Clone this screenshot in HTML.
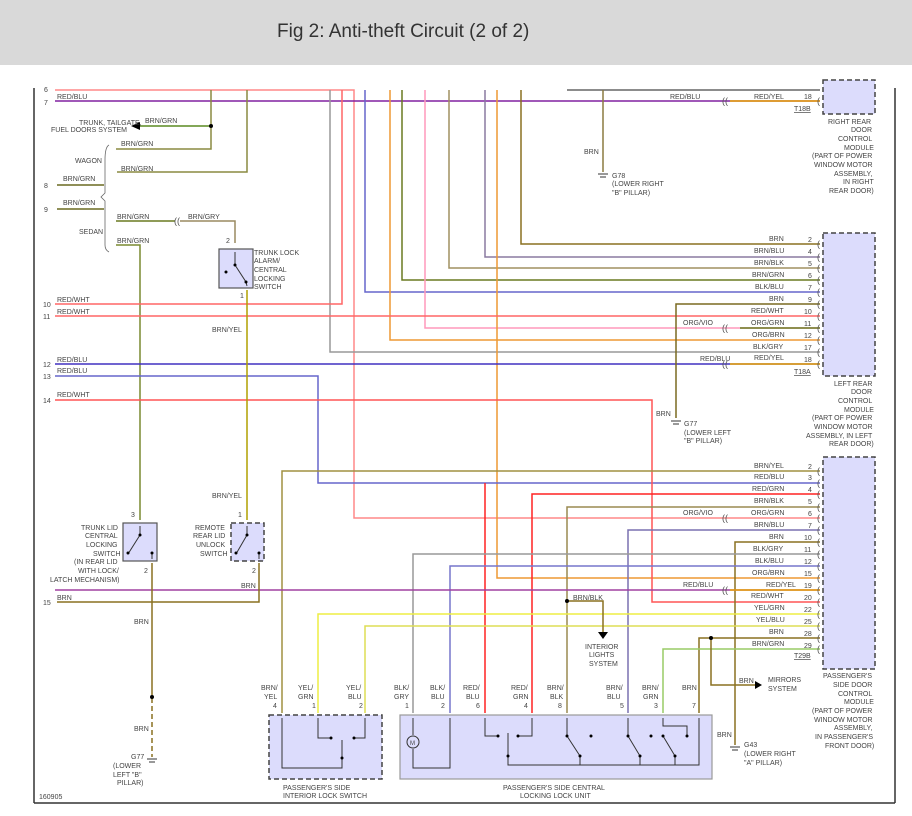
<!DOCTYPE html>
<html><head><meta charset="utf-8"><style>
html,body{margin:0;padding:0;background:#fff;}
svg{display:block;}
text{font-family:"Liberation Sans",sans-serif;font-size:7px;fill:#444;}
.t{font-size:19px;fill:#333;}
.c{font-size:9px;fill:#555;}
</style></head><body>
<svg width="912" height="816" viewBox="0 0 912 816" xmlns="http://www.w3.org/2000/svg">
<rect x="0" y="0" width="912" height="65" fill="#d9d9d9"/>
<text class="t" x="277" y="37">Fig 2: Anti-theft Circuit (2 of 2)</text>
<line x1="34" y1="88" x2="34" y2="803" stroke="#333" stroke-width="1.5"/>
<line x1="895" y1="88" x2="895" y2="803" stroke="#333" stroke-width="1.5"/>
<line x1="34" y1="803" x2="895" y2="803" stroke="#333" stroke-width="1.5"/>

<g fill="none" stroke-width="1.5">
<polyline points="55,90 354,90 354,518 820,518" stroke="#f88"/>
<line x1="567" y1="90" x2="820" y2="90" stroke="#666"/>
<line x1="55" y1="101" x2="820" y2="101" stroke="#8020a0"/>
<line x1="730" y1="101" x2="820" y2="101" stroke="#e8a000"/>
<line x1="140" y1="126" x2="211" y2="126" stroke="#5a8a20"/>
<polyline points="211,90 211,149 116,149" stroke="#8a8a40"/>
<polyline points="247,90 247,172 117,172" stroke="#8a8a40"/>
<line x1="57" y1="185" x2="104" y2="185" stroke="#6a6a20"/>
<line x1="57" y1="209" x2="104" y2="209" stroke="#6a6a20"/>
<line x1="116" y1="221" x2="175" y2="221" stroke="#6a7a20"/>
<polyline points="180,221 235,221 235,243" stroke="#9a8a60"/>
<polyline points="116,245 140,245 140,520" stroke="#7a8a30"/>
<polyline points="330,90 330,352 820,352" stroke="#999"/>
<polyline points="342,90 342,304 55,304" stroke="#f66"/>
<polyline points="365,90 365,292 820,292" stroke="#66c"/>
<polyline points="390,90 390,340 820,340" stroke="#e93"/>
<polyline points="402,90 402,280 820,280" stroke="#6a7a20"/>
<polyline points="425,90 425,328 820,328" stroke="#f9b"/>
<polyline points="449,90 449,268 820,268" stroke="#a09060"/>
<polyline points="485,90 485,257 820,257" stroke="#8a7aa0"/>
<polyline points="497,90 497,578 820,578" stroke="#e93"/>
<polyline points="521,90 521,244 820,244" stroke="#8a7020"/>
<polyline points="603,90 603,172" stroke="#8a7a40"/>
<line x1="55" y1="316" x2="820" y2="316" stroke="#f66"/>
<line x1="740" y1="328" x2="820" y2="328" stroke="#6a7a20"/>
<line x1="55" y1="364" x2="820" y2="364" stroke="#4030c0"/>
<line x1="730" y1="364" x2="820" y2="364" stroke="#e8a000"/>
<polyline points="676,418 676,304 820,304" stroke="#7a6a20"/>
<polyline points="55,376 318,376 318,483 820,483" stroke="#66c"/>
<polyline points="55,400 652,400 652,602 820,602" stroke="#f55"/>
<polyline points="282,713 282,471 820,471" stroke="#a09040"/>
<polyline points="485,713 485,483" stroke="#f22"/>
<polyline points="532,713 532,494 820,494" stroke="#f22"/>
<polyline points="567,713 567,507 820,507" stroke="#9a8a50"/>
<polyline points="628,713 628,530 820,530" stroke="#7a70b0"/>
<polyline points="735,745 735,542 820,542" stroke="#8a7020"/>
<polyline points="413,713 413,554 820,554" stroke="#999"/>
<polyline points="450,713 450,566 820,566" stroke="#77c"/>
<line x1="55" y1="590" x2="820" y2="590" stroke="#a040a0"/>
<line x1="730" y1="590" x2="820" y2="590" stroke="#e8a000"/>
<polyline points="318,713 318,614 820,614" stroke="#ee4"/>
<polyline points="365,713 365,626 820,626" stroke="#dd5"/>
<polyline points="699,713 699,638 820,638" stroke="#8a7020"/>
<polyline points="663,713 663,649 820,649" stroke="#9c6"/>
<polyline points="567,601 603,601 603,632" stroke="#8a7020"/>
<polyline points="711,638 711,685 755,685" stroke="#8a7020"/>
<polyline points="247,290 247,520" stroke="#b0a000"/>
<polyline points="152,563 152,695" stroke="#8a7020"/>
<line x1="152" y1="698" x2="152" y2="757" stroke="#8a7020" stroke-dasharray="5,3"/>
<polyline points="57,602 259,602 259,563" stroke="#8a7020"/>
</g>
<g fill="#000">
<circle cx="211" cy="126" r="2"/><circle cx="567" cy="601" r="2"/><circle cx="711" cy="638" r="2"/><circle cx="152" cy="697" r="2"/>
</g>
<polygon points="131,126 140,122 140,130" fill="#000"/>
<polygon points="598,632 608,632 603,639" fill="#000"/>
<polygon points="755,681 762,685 755,689" fill="#000"/>
<path d="M109,145 Q105,147 105,160 L105,193 L101,197 L105,201 L105,245 Q105,250 109,252" fill="none" stroke="#666" stroke-width="0.8"/>

<g fill="#dcdcfc" stroke="#444" stroke-width="1.5" stroke-dasharray="5,3">
<rect x="823" y="80" width="52" height="34"/>
<rect x="823" y="233" width="52" height="143"/>
<rect x="823" y="457" width="52" height="212"/>
<rect x="269" y="715" width="113" height="64"/>
<rect x="231" y="523" width="33" height="38"/>
</g>
<g fill="#dcdcfc" stroke="#555" stroke-width="1.2">
<rect x="219" y="249" width="34" height="39"/>
<rect x="123" y="523" width="34" height="38"/>
<rect x="400" y="715" width="312" height="64" stroke="#999"/>
</g>
<!-- connector marks -->
<g class="c">
<text class="c" x="817" y="104">(</text>
<text class="c" x="817" y="247">(</text><text class="c" x="817" y="260">(</text><text class="c" x="817" y="271">(</text><text class="c" x="817" y="283">(</text><text class="c" x="817" y="295">(</text><text class="c" x="817" y="307">(</text><text class="c" x="817" y="319">(</text><text class="c" x="817" y="331">(</text><text class="c" x="817" y="343">(</text><text class="c" x="817" y="355">(</text><text class="c" x="817" y="367">(</text>
<text class="c" x="817" y="474">(</text><text class="c" x="817" y="486">(</text><text class="c" x="817" y="497">(</text><text class="c" x="817" y="510">(</text><text class="c" x="817" y="521">(</text><text class="c" x="817" y="533">(</text><text class="c" x="817" y="545">(</text><text class="c" x="817" y="557">(</text><text class="c" x="817" y="569">(</text><text class="c" x="817" y="581">(</text><text class="c" x="817" y="593">(</text><text class="c" x="817" y="605">(</text><text class="c" x="817" y="617">(</text><text class="c" x="817" y="629">(</text><text class="c" x="817" y="641">(</text><text class="c" x="817" y="652">(</text>
<text class="c" x="722" y="104">((</text><text class="c" x="722" y="367">((</text><text class="c" x="722" y="331">((</text><text class="c" x="722" y="521">((</text><text class="c" x="722" y="593">((</text><text class="c" x="174" y="224">((</text>
</g>
<g stroke="#333" stroke-width="1" fill="none">
<polyline points="235,252 235,265 246,282 247,286"/>
<polyline points="140,526 140,535 128,554"/>
<polyline points="152,553 152,559"/>
<polyline points="247,526 247,535 236,554"/>
<polyline points="259,553 259,559"/>
<polyline points="282,718 282,768 342,768 342,740"/>
<polyline points="318,718 318,738 331,738"/>
<polyline points="365,718 365,738 354,738"/>
<polyline points="413,718 413,735"/><circle cx="413" cy="742" r="6"/>
<polyline points="413,749 413,768 450,768 450,718"/>
<polyline points="485,718 485,736 498,736"/>
<polyline points="532,718 532,736 518,736"/>
<polyline points="508,733 508,765 699,765 699,718"/>
<polyline points="567,718 567,736 580,756 580,765"/>
<polyline points="628,718 628,736 640,756 640,765"/>
<polyline points="663,718 663,726 687,726 687,736"/>
<polyline points="663,736 675,756 675,765"/>
</g>
<text x="410" y="745" style="font-size:6px">M</text>
<g fill="#000">
<circle cx="235" cy="265" r="1.5"/><circle cx="246" cy="282" r="1.5"/><circle cx="226" cy="272" r="1.5"/>
<circle cx="140" cy="535" r="1.5"/><circle cx="128" cy="553" r="1.5"/><circle cx="152" cy="553" r="1.5"/>
<circle cx="247" cy="535" r="1.5"/><circle cx="236" cy="553" r="1.5"/><circle cx="259" cy="553" r="1.5"/>
<circle cx="331" cy="738" r="1.5"/><circle cx="354" cy="738" r="1.5"/><circle cx="342" cy="758" r="1.5"/>
<circle cx="498" cy="736" r="1.5"/><circle cx="518" cy="736" r="1.5"/><circle cx="508" cy="756" r="1.5"/>
<circle cx="567" cy="736" r="1.5"/><circle cx="580" cy="756" r="1.5"/><circle cx="591" cy="736" r="1.5"/>
<circle cx="628" cy="736" r="1.5"/><circle cx="640" cy="756" r="1.5"/><circle cx="651" cy="736" r="1.5"/>
<circle cx="663" cy="736" r="1.5"/><circle cx="675" cy="756" r="1.5"/><circle cx="687" cy="736" r="1.5"/>
</g>
<g stroke="#333" stroke-width="1"><line x1="598" y1="174" x2="608" y2="174"/><line x1="600" y1="177" x2="606" y2="177"/>
<line x1="671" y1="421" x2="681" y2="421"/><line x1="673" y1="424" x2="679" y2="424"/>
<line x1="147" y1="759" x2="157" y2="759"/><line x1="149" y1="762" x2="155" y2="762"/>
<line x1="730" y1="747" x2="740" y2="747"/><line x1="732" y1="750" x2="738" y2="750"/></g>

<text x="44" y="92">6</text><text x="44" y="105">7</text><text x="57" y="99">RED/BLU</text>
<text x="79" y="125">TRUNK, TAILGATE,</text><text x="51" y="132">FUEL DOORS SYSTEM</text>
<text x="145" y="123">BRN/GRN</text><text x="121" y="146">BRN/GRN</text><text x="75" y="163">WAGON</text>
<text x="121" y="171">BRN/GRN</text><text x="63" y="181">BRN/GRN</text><text x="44" y="188">8</text>
<text x="63" y="205">BRN/GRN</text><text x="44" y="212">9</text>
<text x="117" y="219">BRN/GRN</text><text x="188" y="219">BRN/GRY</text>
<text x="79" y="234">SEDAN</text><text x="117" y="243">BRN/GRN</text>
<text x="226" y="243">2</text><text x="254" y="255">TRUNK LOCK</text><text x="254" y="263">ALARM/</text><text x="254" y="272">CENTRAL</text><text x="254" y="281">LOCKING</text><text x="254" y="289">SWITCH</text><text x="240" y="298">1</text>
<text x="43" y="307">10</text><text x="57" y="302">RED/WHT</text><text x="43" y="319">11</text><text x="57" y="314">RED/WHT</text>
<text x="212" y="332">BRN/YEL</text>
<text x="43" y="367">12</text><text x="57" y="362">RED/BLU</text><text x="43" y="379">13</text><text x="57" y="373">RED/BLU</text>
<text x="43" y="403">14</text><text x="57" y="397">RED/WHT</text>
<text x="670" y="99">RED/BLU</text><text x="754" y="99">RED/YEL</text><text x="804" y="99">18</text><text x="794" y="111" text-decoration="underline">T18B</text>
<text x="828" y="124">RIGHT REAR</text><text x="851" y="132">DOOR</text><text x="838" y="141">CONTROL</text><text x="844" y="150">MODULE</text><text x="812" y="158">(PART OF POWER</text><text x="814" y="167">WINDOW MOTOR</text><text x="834" y="176">ASSEMBLY,</text><text x="843" y="184">IN RIGHT</text><text x="829" y="193">REAR DOOR)</text>
<text x="584" y="154">BRN</text><text x="612" y="178">G78</text><text x="612" y="186">(LOWER RIGHT</text><text x="612" y="195">"B" PILLAR)</text>
<text x="769" y="241">BRN</text><text x="808" y="242">2</text>
<text x="754" y="253">BRN/BLU</text><text x="808" y="254">4</text>
<text x="754" y="265">BRN/BLK</text><text x="808" y="266">5</text>
<text x="752" y="277">BRN/GRN</text><text x="808" y="278">6</text>
<text x="755" y="289">BLK/BLU</text><text x="808" y="290">7</text>
<text x="769" y="301">BRN</text><text x="808" y="302">9</text>
<text x="751" y="313">RED/WHT</text><text x="804" y="314">10</text>
<text x="683" y="325">ORG/VIO</text><text x="751" y="325">ORG/GRN</text><text x="804" y="326">11</text>
<text x="752" y="337">ORG/BRN</text><text x="804" y="338">12</text>
<text x="753" y="349">BLK/GRY</text><text x="804" y="350">17</text>
<text x="700" y="361">RED/BLU</text><text x="754" y="360">RED/YEL</text><text x="804" y="362">18</text><text x="794" y="374" text-decoration="underline">T18A</text>
<text x="834" y="386">LEFT REAR</text><text x="851" y="394">DOOR</text><text x="838" y="403">CONTROL</text><text x="844" y="412">MODULE</text><text x="812" y="420">(PART OF POWER</text><text x="814" y="429">WINDOW MOTOR</text><text x="806" y="438">ASSEMBLY, IN LEFT</text><text x="829" y="446">REAR DOOR)</text>
<text x="656" y="416">BRN</text><text x="684" y="426">G77</text><text x="684" y="435">(LOWER LEFT</text><text x="684" y="443">"B" PILLAR)</text>
<text x="754" y="468">BRN/YEL</text><text x="808" y="469">2</text>
<text x="754" y="479">RED/BLU</text><text x="808" y="480">3</text>
<text x="752" y="491">RED/GRN</text><text x="808" y="492">4</text>
<text x="754" y="503">BRN/BLK</text><text x="808" y="504">5</text>
<text x="683" y="515">ORG/VIO</text><text x="751" y="515">ORG/GRN</text><text x="808" y="516">6</text>
<text x="754" y="527">BRN/BLU</text><text x="808" y="528">7</text>
<text x="769" y="539">BRN</text><text x="804" y="540">10</text>
<text x="753" y="551">BLK/GRY</text><text x="804" y="552">11</text>
<text x="755" y="563">BLK/BLU</text><text x="804" y="564">12</text>
<text x="752" y="575">ORG/BRN</text><text x="804" y="576">15</text>
<text x="683" y="587">RED/BLU</text><text x="766" y="587">RED/YEL</text><text x="804" y="588">19</text>
<text x="751" y="598">RED/WHT</text><text x="804" y="600">20</text>
<text x="754" y="610">YEL/GRN</text><text x="804" y="612">22</text>
<text x="756" y="622">YEL/BLU</text><text x="804" y="624">25</text>
<text x="769" y="634">BRN</text><text x="804" y="636">28</text>
<text x="752" y="646">BRN/GRN</text><text x="804" y="648">29</text><text x="794" y="658" text-decoration="underline">T29B</text>
<text x="823" y="678">PASSENGER'S</text><text x="833" y="687">SIDE DOOR</text><text x="838" y="696">CONTROL</text><text x="844" y="704">MODULE</text><text x="812" y="713">(PART OF POWER</text><text x="814" y="722">WINDOW MOTOR</text><text x="834" y="730">ASSEMBLY,</text><text x="815" y="739">IN PASSENGER'S</text><text x="825" y="748">FRONT DOOR)</text>
<text x="573" y="600">BRN/BLK</text><text x="585" y="649">INTERIOR</text><text x="589" y="657">LIGHTS</text><text x="589" y="666">SYSTEM</text>
<text x="739" y="683">BRN</text><text x="768" y="682">MIRRORS</text><text x="768" y="691">SYSTEM</text>
<text x="717" y="737">BRN</text><text x="744" y="747">G43</text><text x="744" y="756">(LOWER RIGHT</text><text x="744" y="765">"A" PILLAR)</text>
<text x="81" y="530">TRUNK LID</text><text x="85" y="538">CENTRAL</text><text x="86" y="547">LOCKING</text><text x="93" y="556">SWITCH</text><text x="74" y="564">(IN REAR LID</text><text x="78" y="573">WITH LOCK/</text><text x="50" y="582">LATCH MECHANISM)</text>
<text x="131" y="517">3</text><text x="144" y="573">2</text>
<text x="195" y="530">REMOTE</text><text x="193" y="538">REAR LID</text><text x="196" y="547">UNLOCK</text><text x="200" y="556">SWITCH</text>
<text x="238" y="517">1</text><text x="252" y="573">2</text><text x="241" y="588">BRN</text><text x="212" y="498">BRN/YEL</text>
<text x="43" y="605">15</text><text x="57" y="600">BRN</text><text x="134" y="624">BRN</text><text x="134" y="731">BRN</text>
<text x="131" y="759">G77</text><text x="113" y="768">(LOWER</text><text x="113" y="777">LEFT "B"</text><text x="117" y="785">PILLAR)</text>
<text x="39" y="799">160905</text>
<text x="261" y="690">BRN/</text><text x="264" y="699">YEL</text><text x="273" y="708">4</text>
<text x="298" y="690">YEL/</text><text x="298" y="699">GRN</text><text x="312" y="708">1</text>
<text x="346" y="690">YEL/</text><text x="348" y="699">BLU</text><text x="359" y="708">2</text>
<text x="394" y="690">BLK/</text><text x="394" y="699">GRY</text><text x="405" y="708">1</text>
<text x="430" y="690">BLK/</text><text x="431" y="699">BLU</text><text x="441" y="708">2</text>
<text x="463" y="690">RED/</text><text x="466" y="699">BLU</text><text x="476" y="708">6</text>
<text x="511" y="690">RED/</text><text x="513" y="699">GRN</text><text x="524" y="708">4</text>
<text x="547" y="690">BRN/</text><text x="550" y="699">BLK</text><text x="558" y="708">8</text>
<text x="606" y="690">BRN/</text><text x="607" y="699">BLU</text><text x="620" y="708">5</text>
<text x="642" y="690">BRN/</text><text x="643" y="699">GRN</text><text x="654" y="708">3</text>
<text x="682" y="690">BRN</text><text x="692" y="708">7</text>
<text x="283" y="790">PASSENGER'S SIDE</text><text x="283" y="798">INTERIOR LOCK SWITCH</text>
<text x="503" y="790">PASSENGER'S SIDE CENTRAL</text><text x="520" y="798">LOCKING LOCK UNIT</text>
</svg>
</body></html>
